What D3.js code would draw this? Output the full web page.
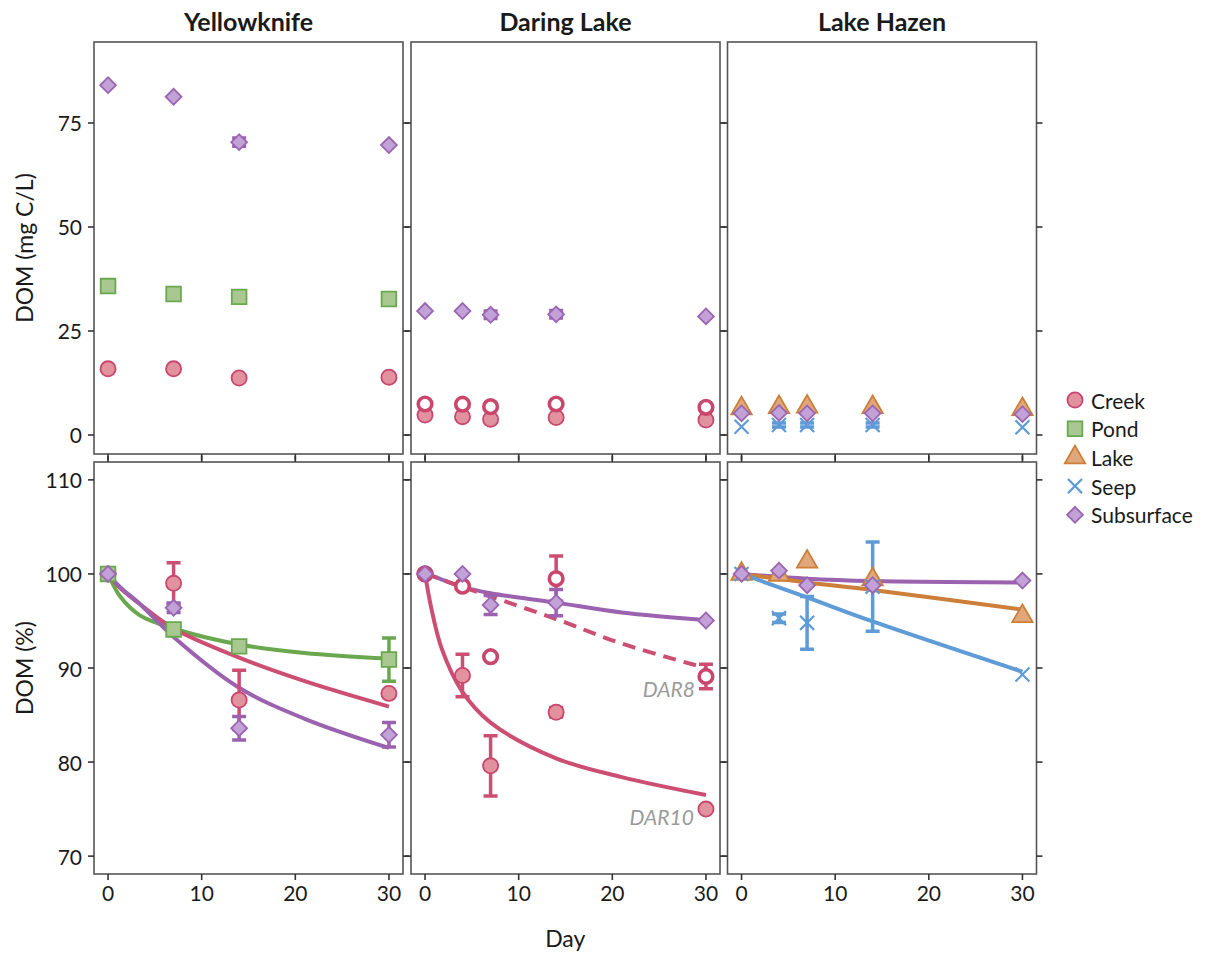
<!DOCTYPE html>
<html>
<head>
<meta charset="utf-8">
<title>DOM loss by site</title>
<script src="https://cdn.jsdelivr.net/npm/d3@7"></script>
<style>
body { margin:0; background:#fff; }
text { font-family: Lato, "Open Sans", sans-serif; fill:#1a1a1a; }
.panel-box { fill:none; stroke:#555; stroke-width:1.6; }
.tick-mark { stroke:#333; stroke-width:1.6; }
.tick-label { font-size:21px; }
.strip { font-size:25px; font-weight:bold; }
.axis-title { font-size:23px; }
.fit { fill:none; stroke-width:4; }
.err { fill:none; stroke-width:3.5; }
.annot { font-size:21px; font-style:italic; fill:#9a9a9a; }
.legend-label { font-size:21px; }
</style>
</head>
<body>
<script>
// ---- data ----
var sites = ["Yellowknife", "Daring Lake", "Lake Hazen"];
var types = ["Creek", "Pond", "Lake", "Seep", "Subsurface"];
var xTicks = [0, 10, 20, 30];
var yTicksConc = [0, 25, 50, 75];
var yTicksPct = [70, 80, 90, 100, 110];

var dayYK = [0, 7, 14, 30];
var dayDL = [0, 4, 7, 14, 30];
var dayLH = [0, 4, 7, 14, 30];

// DOM concentration (mg C/L)
var concYKCreek = [15.9, 15.9, 13.7, 13.9];
var concYKPond = [35.8, 33.9, 33.2, 32.7];
var concYKSub = [84.1, 81.3, 70.4, 69.7];
var concYKSubErr = [0, 0, 1.0, 0];
var concDLDar10 = [4.8, 4.4, 3.8, 4.2, 3.6];
var concDLDar8 = [7.45, 7.4, 6.8, 7.45, 6.65];
var concDLSub = [29.8, 29.8, 28.9, 29.0, 28.5];
var concDLSubErr = [0, 0, 0.9, 0.9, 0];
var concLHLake = [6.4, 6.65, 6.8, 6.65, 6.2];
var concLHSeep = [2.0, 2.4, 2.4, 2.4, 1.85];
var concLHSeepErr = [0, 0.5, 0.5, 0.5, 0];
var concLHSub = [5.2, 5.3, 5.2, 5.2, 5.0];

// DOM remaining (%)
var pctYKCreek = [100, 99.0, 86.6, 87.3];
var pctYKCreekErr = [0, 2.2, 3.15, 0];
var pctYKPond = [100, 94.1, 92.3, 90.9];
var pctYKPondErr = [0, 0, 0, 2.3];
var pctYKSub = [100, 96.4, 83.6, 82.9];
var pctYKSubErr = [0, 0.5, 1.25, 1.3];
var pctDLDar10 = [100, 89.2, 79.6, 85.3, 75.0];
var pctDLDar10Err = [0, 2.25, 3.2, 0.5, 0];
var pctDLDar8 = [100, 98.7, 91.2, 99.5, 89.1];
var pctDLDar8Err = [0, 0, 0, 2.4, 1.3];
var pctDLSub = [100, 100.0, 96.7, 96.95, 95.05];
var pctDLSubErr = [0, 0, 1.0, 1.4, 0];
var pctLHLake = [100, 99.9, 101.3, 99.4, 95.5];
var pctLHSeep = [100, 95.3, 94.8, 98.65, 89.3];
var pctLHSeepErr = [0, 0.45, 2.8, 4.75, 0];
var pctLHSub = [100, 100.35, 98.8, 98.8, 99.3];

// fitted decay curves, sampled off the figure
var fitDayYK = [0, 1.3, 3.4, 7, 14, 21, 30];
var fitYKCreek = [100, 98.5, 96.8, 94.2, 91.1, 88.6, 85.9];
var fitYKPond = [100, 97.6, 95.6, 94.2, 92.5, 91.6, 91.0];
var fitYKSub = [100, 98.6, 96.8, 93.3, 87.9, 84.6, 81.5];
var fitDayDL = [0, 0.7, 1.8, 3.9, 7, 14, 21, 30];
var fitDLDar10 = [100, 96.2, 92.0, 87.6, 84.2, 80.4, 78.4, 76.5];
var fitDLDar8 = [100, 99.8, 99.4, 98.65, 97.6, 95.2, 92.6, 90.0];
var fitDLSub = [100, 99.8, 99.4, 98.65, 97.95, 96.95, 95.9, 95.1];
var fitDayLH = [0, 7, 14, 30];
var fitLHLake = [100, 99.1, 98.3, 96.2];
var fitLHSeep = [100, 97.5, 94.95, 89.6];
var fitLHSub = [100, 99.5, 99.25, 99.1];

// ---- styles ----
var typeStyle = {
	Creek:      { stroke:"#c9476c", fill:"#e2929f", line:"#cc4f73", shape:"circle" },
	Pond:       { stroke:"#6aa84f", fill:"#a9c891", line:"#6aa84f", shape:"square" },
	Lake:       { stroke:"#cd7f3a", fill:"#e0a87a", line:"#cd7f3a", shape:"triangle" },
	Seep:       { stroke:"#5f9bd6", fill:"none",    line:"#5f9bd6", shape:"x" },
	Subsurface: { stroke:"#9b65b3", fill:"#c2a2d6", line:"#9b62b0", shape:"diamond" }
};
var timesType = d3.symbolTimes || d3.symbolX || d3.symbolCross;
var shapeGen = {
	circle:   d3.symbol().type(d3.symbolCircle).size(180),
	square:   d3.symbol().type(d3.symbolSquare).size(215),
	triangle: d3.symbol().type(d3.symbolTriangle).size(180),
	x:        d3.symbol().type(timesType).size(130),
	diamond:  d3.symbol().type(d3.symbolSquare).size(125)
};

// series tables built from the arrays
var concSeries = [
	{ site:0, type:"Creek", days:dayYK, v:concYKCreek },
	{ site:0, type:"Pond", days:dayYK, v:concYKPond },
	{ site:0, type:"Subsurface", days:dayYK, v:concYKSub, err:concYKSubErr },
	{ site:1, type:"Creek", days:dayDL, v:concDLDar10 },
	{ site:1, type:"Creek", days:dayDL, v:concDLDar8, open:true },
	{ site:1, type:"Subsurface", days:dayDL, v:concDLSub, err:concDLSubErr },
	{ site:2, type:"Lake", days:dayLH, v:concLHLake },
	{ site:2, type:"Seep", days:dayLH, v:concLHSeep, err:concLHSeepErr },
	{ site:2, type:"Subsurface", days:dayLH, v:concLHSub }
];
var pctSeries = [
	{ site:0, type:"Creek", days:dayYK, v:pctYKCreek, err:pctYKCreekErr },
	{ site:0, type:"Pond", days:dayYK, v:pctYKPond, err:pctYKPondErr },
	{ site:0, type:"Subsurface", days:dayYK, v:pctYKSub, err:pctYKSubErr },
	{ site:1, type:"Creek", days:dayDL, v:pctDLDar10, err:pctDLDar10Err },
	{ site:1, type:"Creek", days:dayDL, v:pctDLDar8, err:pctDLDar8Err, open:true },
	{ site:1, type:"Subsurface", days:dayDL, v:pctDLSub, err:pctDLSubErr },
	{ site:2, type:"Lake", days:dayLH, v:pctLHLake },
	{ site:2, type:"Seep", days:dayLH, v:pctLHSeep, err:pctLHSeepErr },
	{ site:2, type:"Subsurface", days:dayLH, v:pctLHSub }
];
var fitSeries = [
	{ site:0, type:"Pond", days:fitDayYK, v:fitYKPond },
	{ site:0, type:"Creek", days:fitDayYK, v:fitYKCreek },
	{ site:0, type:"Subsurface", days:fitDayYK, v:fitYKSub },
	{ site:1, type:"Subsurface", days:fitDayDL, v:fitDLSub },
	{ site:1, type:"Creek", days:fitDayDL, v:fitDLDar8, dashed:true },
	{ site:1, type:"Creek", days:fitDayDL, v:fitDLDar10 },
	{ site:2, type:"Subsurface", days:fitDayLH, v:fitLHSub },
	{ site:2, type:"Lake", days:fitDayLH, v:fitLHLake },
	{ site:2, type:"Seep", days:fitDayLH, v:fitLHSeep }
];

// ---- layout ----
var W = 309, H = 412;
var panelX = [94, 411, 727.5];
var rowY = [42, 462];
var TICK = 6;

var svg = d3.select("body").append("svg").attr("width", 1221).attr("height", 959);

var x = d3.scaleLinear().domain([-1.5, 31.5]).range([0, W]);
var yConc = d3.scaleLinear().domain([-4.57, 94.47]).range([H, 0]);
var yPct = d3.scaleLinear().domain([68.1, 111.9]).range([H, 0]);

function drawMarks(g, list, y) {
	// error bars sit under all the points
	list.forEach(function(s) {
		if (!s.err) return;
		var st = typeStyle[s.type];
		s.days.forEach(function(d, i) {
			var e = s.err[i];
			if (!e) return;
			var cx = x(d), y1 = y(s.v[i] + e), y2 = y(s.v[i] - e);
			var p = d3.path();
			p.moveTo(cx, y1); p.lineTo(cx, y2);
			p.moveTo(cx - 7, y1); p.lineTo(cx + 7, y1);
			p.moveTo(cx - 7, y2); p.lineTo(cx + 7, y2);
			g.append("path").attr("class", "err").attr("d", p.toString()).attr("stroke", st.line);
		});
	});
	list.forEach(function(s) {
		var st = typeStyle[s.type];
		g.selectAll(null)
			.data(s.days.map(function(d, i) { return [d, s.v[i]]; }))
			.enter()
			.append("path")
			.attr("transform", function(d) {
				return "translate(" + x(d[0]) + "," + y(d[1]) + ")" + (st.shape == "diamond" ? " rotate(45)" : "");
			})
			.attr("d", s.open ? d3.symbol().type(d3.symbolCircle).size(145)() : shapeGen[st.shape]())
			.attr("fill", s.open ? "#fff" : st.fill)
			.attr("stroke", st.stroke)
			.attr("stroke-width", s.open ? 3.6 : (st.shape == "x" ? 2.2 : 1.8));
	});
}

function drawFrame(g, row, col, y, yTicks) {
	g.append("rect").attr("class", "panel-box").attr("width", W).attr("height", H);
	yTicks.forEach(function(t) {
		g.append("line").attr("class", "tick-mark").attr("x1", -TICK).attr("x2", 0).attr("y1", y(t)).attr("y2", y(t));
		g.append("line").attr("class", "tick-mark").attr("x1", W).attr("x2", W + TICK).attr("y1", y(t)).attr("y2", y(t));
		if (col == 0) {
			g.append("text").attr("class", "tick-label").attr("x", -12).attr("y", y(t))
				.attr("text-anchor", "end").attr("dominant-baseline", "central").text(t);
		}
	});
	xTicks.forEach(function(t) {
		g.append("line").attr("class", "tick-mark").attr("x1", x(t)).attr("x2", x(t)).attr("y1", H).attr("y2", H + TICK);
		if (row == 1) {
			g.append("line").attr("class", "tick-mark").attr("x1", x(t)).attr("x2", x(t)).attr("y1", 0).attr("y2", -TICK);
			g.append("text").attr("class", "tick-label").attr("x", x(t)).attr("y", H + 27)
				.attr("text-anchor", "middle").text(t);
		}
	});
}

var line = d3.line()
	.x(function(d) { return x(d[0]); })
	.y(function(d) { return yPct(d[1]); })
	.curve(d3.curveCatmullRom.alpha(0.5));

sites.forEach(function(site, col) {
	// top row: concentration
	var gt = svg.append("g").attr("transform", "translate(" + panelX[col] + "," + rowY[0] + ")");
	drawMarks(gt, concSeries.filter(function(s) { return s.site == col; }), yConc);
	drawFrame(gt, 0, col, yConc, yTicksConc);
	svg.append("text").attr("class", "strip").attr("x", panelX[col] + W / 2).attr("y", 31)
		.attr("text-anchor", "middle").text(site);

	// bottom row: percent remaining
	var gb = svg.append("g").attr("transform", "translate(" + panelX[col] + "," + rowY[1] + ")");
	fitSeries.filter(function(s) { return s.site == col; }).forEach(function(s) {
		gb.append("path").attr("class", "fit")
			.attr("d", line(s.days.map(function(d, i) { return [d, s.v[i]]; })))
			.attr("stroke", typeStyle[s.type].line)
			.attr("stroke-dasharray", s.dashed ? "13,8" : null);
	});
	drawMarks(gb, pctSeries.filter(function(s) { return s.site == col; }), yPct);
	drawFrame(gb, 1, col, yPct, yTicksPct);

	if (col == 1) {
		gb.append("text").attr("class", "annot").attr("x", x(30) - 11).attr("y", yPct(86.9))
			.attr("text-anchor", "end").text("DAR8");
		gb.append("text").attr("class", "annot").attr("x", x(30) - 12).attr("y", yPct(73.3))
			.attr("text-anchor", "end").text("DAR10");
	}
});

// axis titles
svg.append("text").attr("class", "axis-title")
	.attr("transform", "translate(33," + (rowY[0] + H / 2) + ") rotate(-90)")
	.attr("text-anchor", "middle").text("DOM (mg C/L)");
svg.append("text").attr("class", "axis-title")
	.attr("transform", "translate(33," + (rowY[1] + H / 2) + ") rotate(-90)")
	.attr("text-anchor", "middle").text("DOM (%)");
svg.append("text").attr("class", "axis-title")
	.attr("x", (panelX[0] + panelX[2] + W) / 2).attr("y", 947)
	.attr("text-anchor", "middle").text("Day");

// legend
var legend = svg.append("g").attr("transform", "translate(1075,400)");
types.forEach(function(t, i) {
	var st = typeStyle[t];
	var gy = i * 28.7;
	legend.append("path")
		.attr("transform", "translate(0," + gy + ")" + (st.shape == "diamond" ? " rotate(45)" : ""))
		.attr("d", shapeGen[st.shape]())
		.attr("fill", st.fill).attr("stroke", st.stroke)
		.attr("stroke-width", st.shape == "x" ? 2.2 : 1.8);
	legend.append("text").attr("class", "legend-label").attr("x", 16).attr("y", gy)
		.attr("dominant-baseline", "central").text(t);
});
</script>
</body>
</html>
